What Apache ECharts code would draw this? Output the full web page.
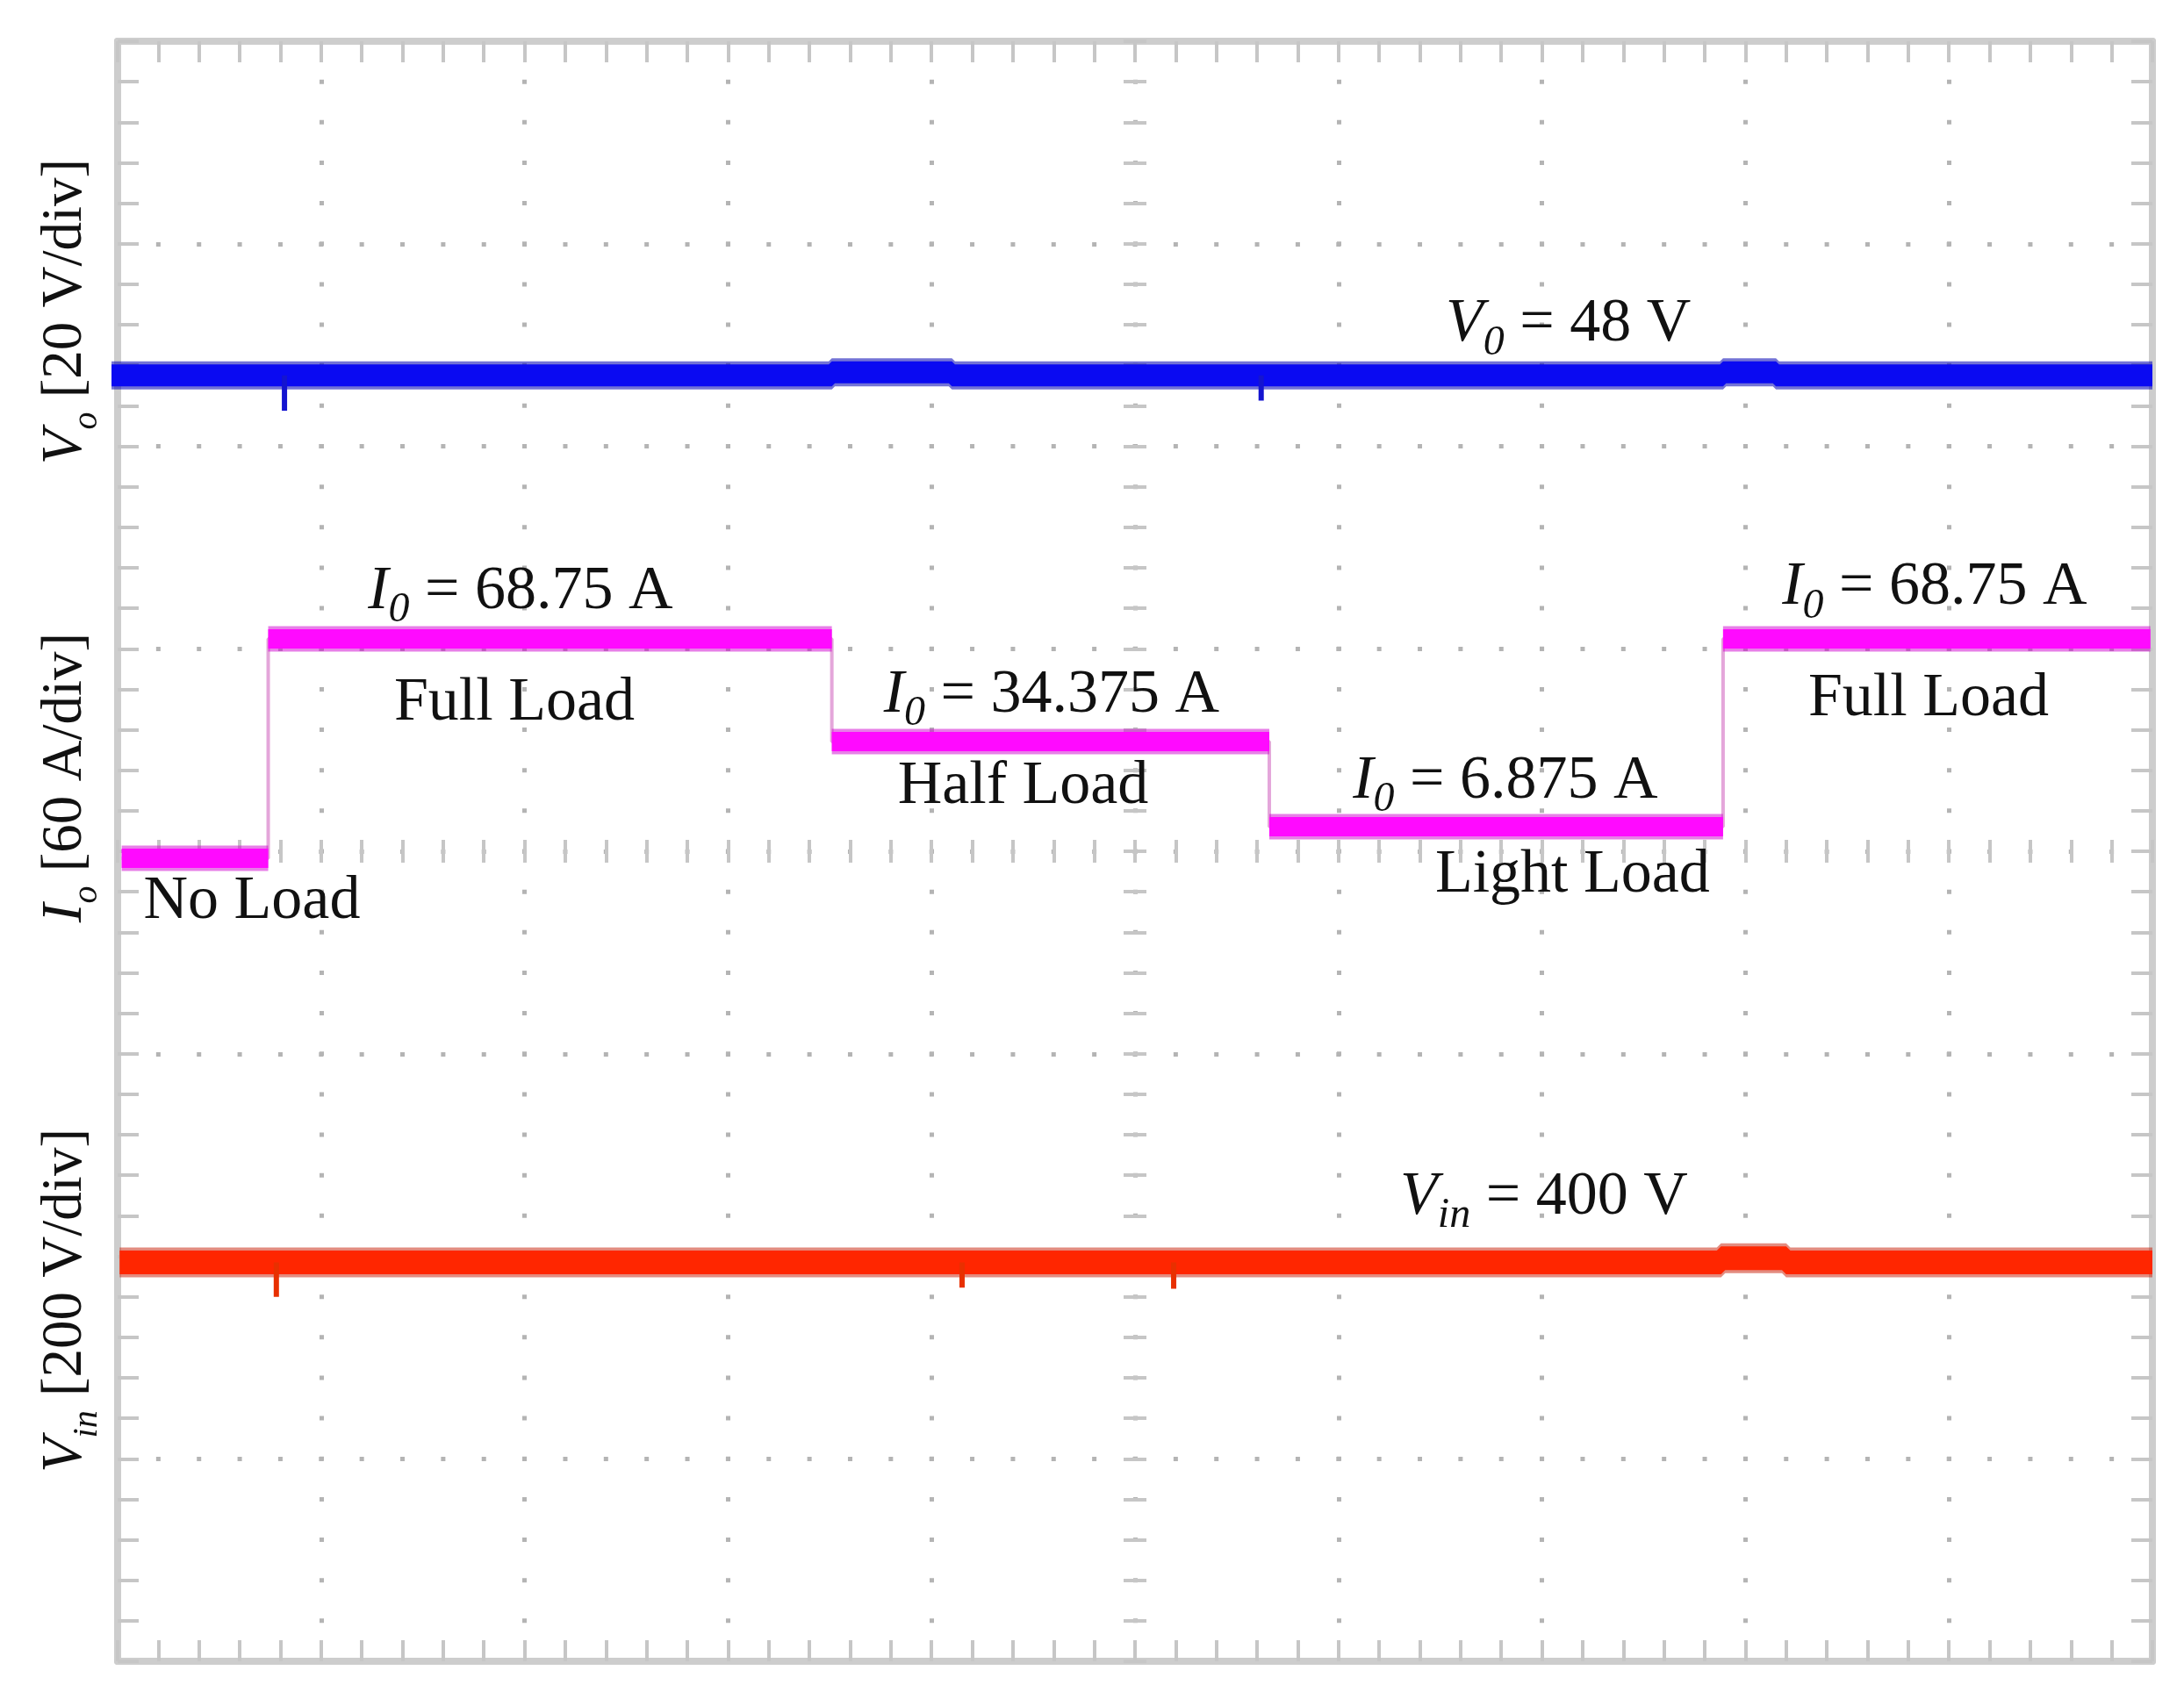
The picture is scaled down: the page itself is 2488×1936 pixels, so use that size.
<!DOCTYPE html>
<html lang="en">
<head>
<meta charset="UTF-8">
<title>Vo / Io / Vin under load steps</title>
<script src="https://cdn.jsdelivr.net/npm/echarts@6/dist/echarts.min.js"></script>
<style>
  html, body { margin: 0; padding: 0; background: #ffffff; }
  #main { width: 2488px; height: 1936px; }
</style>
</head>
<body>
<div id="main"></div>
<script type="text/javascript">
// scope screen: 10 x 8 divisions, counted from the centre
var xDivs = [-5, 5];
var yDivs = [-4, 4];

// channel scale per div and where its zero level sits (div from centre)
var voScale = 20, voZero = -0.05;
var ioScale = 60, ioZero = -0.035;
var vinScale = 200, vinZero = -4.03;

// Vo trace [time div, V] and its short spikes
var voTrace = [[-5.03, 48], [-1.49, 48], [-1.49, 48.3], [-0.9, 48.3], [-0.9, 48], [2.89, 48], [2.89, 48.3], [3.15, 48.3], [3.15, 48], [5, 48]];
var voSpikes = [[-4.18, 44.5], [0.62, 45.5]];

// Io load steps [start div, end div, A]
var ioSteps = [[-4.98, -4.26, 0], [-4.26, -1.49, 65], [-1.49, 0.66, 34.6], [0.66, 2.89, 9.4], [2.89, 4.99, 65]];

// Vin trace [time div, V] and its spikes
var vinTrace = [[-4.99, 400], [2.88, 400], [2.88, 404], [3.2, 404], [3.2, 400], [5, 400]];
var vinSpikes = [[-4.22, 366], [-0.85, 375], [0.19, 374]];

// text on the screen, placed in div coordinates
var annotations = [
    {at: [2.13, 2.60], text: '{i|V}{s|0}{n| = 48 V}'},
    {at: [-3.02, 1.28], text: '{i|I}{s|0}{n| = 68.75 A}'},
    {at: [-3.05, 0.73], text: '{n|Full Load}'},
    {at: [-4.34, -0.25], text: '{n|No Load}'},
    {at: [-0.41, 0.77], text: '{i|I}{s|0}{n| = 34.375 A}'},
    {at: [-0.55, 0.32], text: '{n|Half Load}'},
    {at: [1.82, 0.345], text: '{i|I}{s|0}{n| = 6.875 A}'},
    {at: [2.15, -0.12], text: '{n|Light Load}'},
    {at: [3.93, 1.30], text: '{i|I}{s|0}{n| = 68.75 A}'},
    {at: [3.90, 0.75], text: '{n|Full Load}'},
    {at: [2.01, -1.71], text: '{i|V}{s|in}{n| = 400 V}'}
];
var axisTitles = [
    {at: [-5.255, 2.665], text: '{i|V}{s|o}{n| [20 V/div]}'},
    {at: [-5.255, 0.364], text: '{i|I}{s|o}{n| [60 A/div]}'},
    {at: [-5.255, -2.219], text: '{i|V}{s|in}{n| [200 V/div]}'}
];

var serif = 'Liberation Serif';
var frameColor = '#cdcdcd';
var tickColor = '#c6c6c6';
var dotColor = '#b4b4b4';

function stepPath(steps) {
    var pts = [];
    steps.forEach(function (s) { pts.push([s[0], s[2]]); pts.push([s[1], s[2]]); });
    return pts;
}
function stepBars(steps) {
    var pts = [];
    steps.forEach(function (s) { pts.push([s[0], s[2]]); pts.push([s[1], s[2]]); pts.push([s[1], '-']); });
    return pts;
}
function spikeLines(spikes, level) {
    var pts = [];
    spikes.forEach(function (p) { pts.push([p[0], level]); pts.push([p[0], p[1]]); pts.push([p[0], '-']); });
    return pts;
}
function channelAxis(scale, zero) {
    return {type: 'value', show: false, min: (yDivs[0] - zero) * scale, max: (yDivs[1] - zero) * scale};
}
function traceSeries(data, yIdx, color, width, opacity) {
    return {
        type: 'line', xAxisIndex: 0, yAxisIndex: yIdx, data: data,
        symbol: 'none', silent: true, clip: false, connectNulls: false,
        lineStyle: {color: color, width: width, opacity: opacity == null ? 1 : opacity}
    };
}

var noLabel = {show: false};
var tickStyle = {color: tickColor, width: 4};

var chart = echarts.init(document.getElementById('main'));
var option = {
    animation: false,
    backgroundColor: '#ffffff',
    grid: {left: 134, right: 36, top: 47, bottom: 43, outerBoundsMode: 'none'},
    xAxis: [
        // bottom frame, carries the dotted division lines
        {type: 'value', min: xDivs[0], max: xDivs[1], interval: 1, position: 'bottom',
            axisLine: {onZero: false, lineStyle: {color: frameColor, width: 8}},
            axisTick: {show: true, inside: true, length: 24, lineStyle: tickStyle},
            minorTick: {show: true, splitNumber: 5, length: 24, lineStyle: tickStyle},
            axisLabel: noLabel,
            splitLine: {show: true, lineStyle: {color: dotColor, width: 5, type: [5, 41.15], dashOffset: 2.5}}},
        // top frame
        {type: 'value', min: xDivs[0], max: xDivs[1], interval: 0.2, position: 'top',
            axisLine: {onZero: false, lineStyle: {color: frameColor, width: 8}},
            axisTick: {show: true, inside: true, length: 24, lineStyle: tickStyle},
            axisLabel: noLabel, splitLine: {show: false}},
        // centre horizontal axis, ticks both ways
        {type: 'value', min: xDivs[0], max: xDivs[1], interval: 0.2, position: 'bottom',
            axisLine: {show: false, onZero: true, onZeroAxisIndex: 0},
            axisTick: {show: true, inside: true, length: 13, lineStyle: tickStyle},
            axisLabel: noLabel, splitLine: {show: false}},
        {type: 'value', min: xDivs[0], max: xDivs[1], interval: 0.2, position: 'bottom',
            axisLine: {show: false, onZero: true, onZeroAxisIndex: 0},
            axisTick: {show: true, inside: false, length: 13, lineStyle: tickStyle},
            axisLabel: noLabel, splitLine: {show: false}}
    ],
    yAxis: [
        // left frame, carries the dotted division lines
        {type: 'value', min: yDivs[0], max: yDivs[1], interval: 1, position: 'left',
            axisLine: {show: true, onZero: false, lineStyle: {color: frameColor, width: 8}},
            axisTick: {show: true, inside: true, length: 24, lineStyle: tickStyle},
            minorTick: {show: true, splitNumber: 5, length: 24, lineStyle: tickStyle},
            axisLabel: noLabel,
            splitLine: {show: true, lineStyle: {color: dotColor, width: 5, type: [5, 41.36], dashOffset: 2.5}}},
        // right frame
        {type: 'value', min: yDivs[0], max: yDivs[1], interval: 0.2, position: 'right',
            axisLine: {show: true, onZero: false, lineStyle: {color: frameColor, width: 8}},
            axisTick: {show: true, inside: true, length: 24, lineStyle: tickStyle},
            axisLabel: noLabel, splitLine: {show: false}},
        // centre vertical axis, ticks both ways
        {type: 'value', min: yDivs[0], max: yDivs[1], interval: 0.2, position: 'left',
            axisLine: {show: false, onZero: true, onZeroAxisIndex: 0},
            axisTick: {show: true, inside: true, length: 13, lineStyle: tickStyle},
            axisLabel: noLabel, splitLine: {show: false}},
        {type: 'value', min: yDivs[0], max: yDivs[1], interval: 0.2, position: 'left',
            axisLine: {show: false, onZero: true, onZeroAxisIndex: 0},
            axisTick: {show: true, inside: false, length: 13, lineStyle: tickStyle},
            axisLabel: noLabel, splitLine: {show: false}},
        // channel axes
        channelAxis(voScale, voZero),
        channelAxis(ioScale, ioZero),
        channelAxis(vinScale, vinZero)
    ],
    series: [
        traceSeries(voTrace, 4, '#0000b4', 32, 0.55),
        traceSeries(voTrace, 4, '#0a0af2', 25),
        traceSeries(spikeLines(voSpikes, 48), 4, '#1414d0', 6),
        traceSeries(stepPath(ioSteps), 5, '#e4a6da', 4),
        traceSeries(stepBars(ioSteps), 5, '#d000d0', 29, 0.5),
        traceSeries(stepBars(ioSteps), 5, '#ff0aff', 22),
        traceSeries(vinTrace, 6, '#c81800', 34, 0.5),
        traceSeries(vinTrace, 6, '#ff2600', 27),
        traceSeries(spikeLines(vinSpikes, 400), 6, '#e83000', 6)
    ]
};
chart.setOption(option);

// rich text styles: italic symbol, italic subscript, plain text
function richFor(size, subSize, subHeight) {
    return {
        i: {fontFamily: serif, fontStyle: 'italic', fontSize: size, lineHeight: 90, fill: '#111111'},
        s: {fontFamily: serif, fontStyle: 'italic', fontSize: subSize, lineHeight: subHeight, verticalAlign: 'bottom', fill: '#111111'},
        n: {fontFamily: serif, fontSize: size, lineHeight: 90, fill: '#111111'}
    };
}
function toPx(at) {
    return chart.convertToPixel({xAxisIndex: 0, yAxisIndex: 0}, at);
}

var graphics = [];
annotations.forEach(function (a) {
    var p = toPx(a.at);
    graphics.push({
        type: 'text', x: p[0], y: p[1], z: 100, silent: true,
        style: {text: a.text, align: 'center', verticalAlign: 'middle', rich: richFor(70, 48, 53)}
    });
});
axisTitles.forEach(function (a) {
    var p = toPx(a.at);
    graphics.push({
        type: 'text', x: p[0], y: p[1], z: 100, silent: true, rotation: Math.PI / 2,
        style: {text: a.text, align: 'center', verticalAlign: 'middle', rich: richFor(65, 40, 48)}
    });
});
chart.setOption({graphic: graphics});
</script>
</body>
</html>
